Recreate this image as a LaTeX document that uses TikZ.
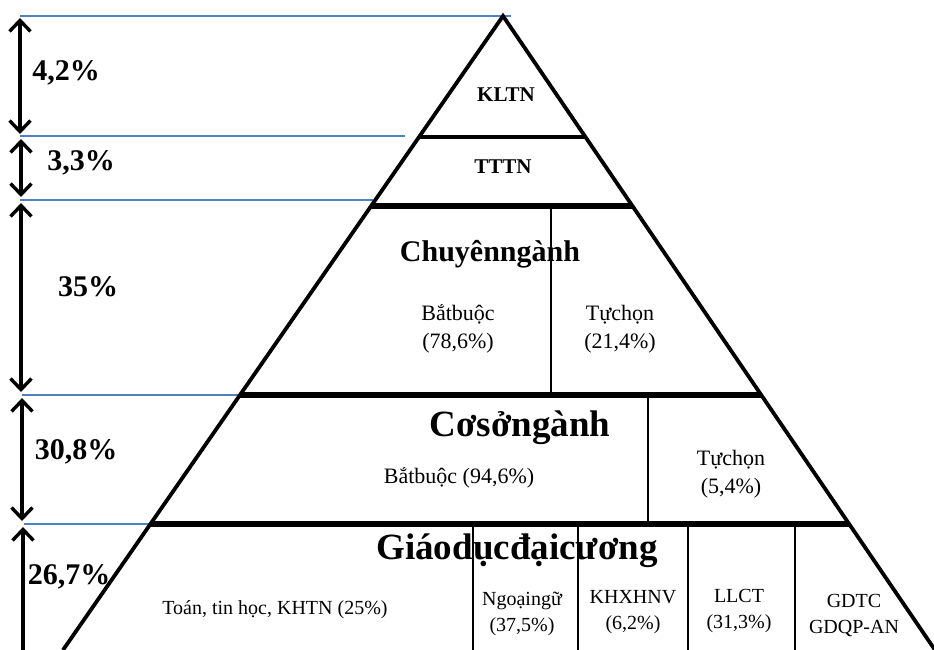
\documentclass[tikz,border=0pt]{standalone}
\usepackage{fontspec}
\setmainfont{Liberation Serif}
\usetikzlibrary{arrows.meta,calc}
\definecolor{guideblue}{RGB}{79,129,189}
\tikzset{
  side/.style={line width=3.8pt},
  thinsep/.style={line width=4.5pt},
  sep/.style={line width=6.5pt},
  divider/.style={line width=2.4pt},
  guide/.style={guideblue, line width=1.4pt},
  span/.style={line width=3.4pt,
    {Straight Barb[length=11pt,width=21pt,line width=3.4pt]}-{Straight Barb[length=11pt,width=21pt,line width=3.4pt]}},
  pct/.style={inner sep=0pt, font=\fontsize{30}{34}\selectfont\bfseries},
  lvl/.style={inner sep=0pt, font=\fontsize{21}{24}\selectfont\bfseries},
  head/.style={inner sep=0pt, font=\fontsize{30}{34}\selectfont\bfseries},
  headbig/.style={inner sep=0pt, font=\fontsize{37}{40}\selectfont\bfseries},
  part/.style={inner sep=0pt, align=center, font=\fontsize{22}{28}\selectfont},
  sub/.style={inner sep=0pt, align=center, font=\fontsize{20}{26}\selectfont}
}
\begin{document}
\begin{tikzpicture}[x=1pt,y=-1pt]
\clip (0,0) rectangle (934,650);
\coordinate (top) at (503,16);
\coordinate (bl) at (63,650);
\coordinate (br) at (935,650);
\coordinate (l1) at ($(top)!0.191!(bl)$);
\coordinate (r1) at ($(top)!0.191!(br)$);
\coordinate (l2) at ($(top)!0.300!(bl)$);
\coordinate (r2) at ($(top)!0.300!(br)$);
\coordinate (l3) at ($(top)!0.598!(bl)$);
\coordinate (r3) at ($(top)!0.598!(br)$);
\coordinate (l4) at ($(top)!0.801!(bl)$);
\coordinate (r4) at ($(top)!0.801!(br)$);
\coordinate (g0) at (20,16);
\coordinate (g0e) at (511,16);
\coordinate (g1) at (20,136);
\coordinate (g1e) at (405,136);
\coordinate (g2) at (20,200);
\coordinate (g2e) at (373,200);
\coordinate (g3) at (22,395);
\coordinate (g3e) at (242,395);
\coordinate (g4) at (24,524);
\coordinate (g4e) at (150,524);
\draw[guide] (g0) -- (g0e);
\draw[guide] (g1) -- (g1e);
\draw[guide] (g2) -- (g2e);
\draw[guide] (g3) -- (g3e);
\draw[guide] (g4) -- (g4e);
\coordinate (a0) at (20,18);
\coordinate (a0e) at (20,134);
\coordinate (a1) at (21,139);
\coordinate (a1e) at (21,197);
\coordinate (a2) at (21,203);
\coordinate (a2e) at (21,392);
\coordinate (a3) at (22,398);
\coordinate (a3e) at (22,521);
\coordinate (a4) at (23,527);
\coordinate (a4e) at (23,668);
\draw[span] (a0) -- (a0e);
\draw[span] (a1) -- (a1e);
\draw[span] (a2) -- (a2e);
\draw[span] (a3) -- (a3e);
\draw[span] (a4) -- (a4e);
\draw[side] (bl) -- (top) -- (br);
\draw[thinsep] (l1) -- (r1);
\draw[sep] (l2) -- (r2);
\draw[sep] (l3) -- (r3);
\draw[sep] (l4) -- (r4);
\coordinate (d0) at (551,206);
\coordinate (d0e) at (551,395);
\coordinate (d1) at (648,395);
\coordinate (d1e) at (648,524);
\coordinate (d2) at (473,524);
\coordinate (d2e) at (473,650);
\coordinate (d3) at (578,524);
\coordinate (d3e) at (578,650);
\coordinate (d4) at (688,524);
\coordinate (d4e) at (688,650);
\coordinate (d5) at (795,524);
\coordinate (d5e) at (795,650);
\draw[divider] (d0) -- (d0e);
\draw[divider] (d1) -- (d1e);
\draw[divider] (d2) -- (d2e);
\draw[divider] (d3) -- (d3e);
\draw[divider] (d4) -- (d4e);
\draw[divider] (d5) -- (d5e);
\node[pct] (p42) at (66,73) {4,2\%};
\node[pct] (p33) at (81,163) {3,3\%};
\node[pct] (p35) at (88,287) {35\%};
\node[pct] (p308) at (76,452) {30,8\%};
\node[pct] (p267) at (69,577) {26,7\%};
\node[lvl] (kltn) at (506,95) {KLTN};
\node[lvl] (tttn) at (503,167) {TTTN};
\node[head] (cn) at (490,254) {Chuyênngành};
\node[part] (cnbb) at (458,329) {Bắtbuộc\\(78,6\%)};
\node[part] (cntc) at (620,329) {Tựchọn\\(21,4\%)};
\node[headbig] (csn) at (520,428) {Cơsởngành};
\node[part] (csnbb) at (459,478) {Bắtbuộc (94,6\%)};
\node[part] (csntc) at (731,474) {Tựchọn\\(5,4\%)};
\node[headbig] (gddc) at (517,551) {Giáodụcđạicương};
\node[sub] (khtn) at (275,610) {Toán, tin học, KHTN (25\%)};
\node[sub] (nn) at (522,614) {Ngoạingữ\\(37,5\%)};
\node[sub] (khxh) at (633,612) {KHXHNV\\(6,2\%)};
\node[sub] (llct) at (739,611) {LLCT\\(31,3\%)};
\node[sub] (gdtc) at (854,615) {GDTC\\GDQP-AN};
\end{tikzpicture}
\end{document}
